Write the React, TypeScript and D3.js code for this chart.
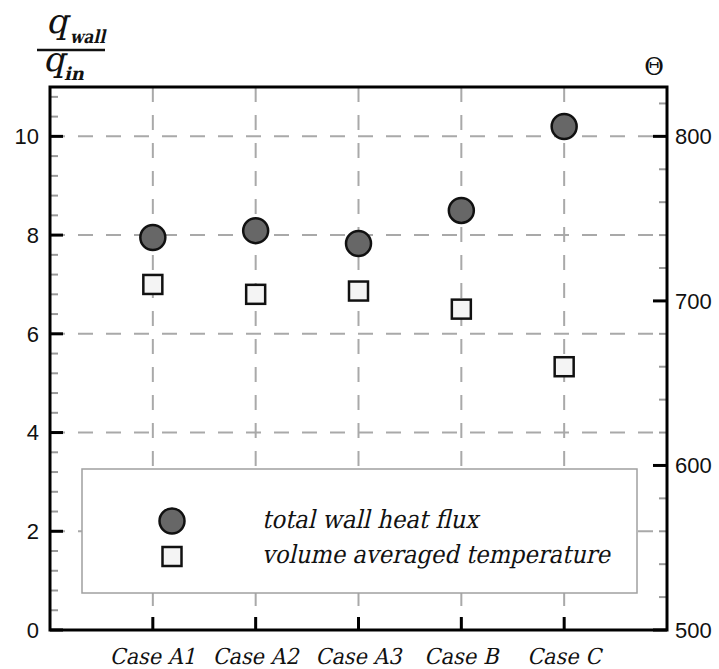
import React from "react";
import * as d3 from "d3";

// Cases along the x axis
const cases = ["Case A1", "Case A2", "Case A3", "Case B", "Case C"];
// Total wall heat flux ratio q_wall / q_in (left axis)
const heatFlux = [7.95, 8.09, 7.83, 8.5, 10.2];
// Volume averaged temperature Θ (right axis)
const avgTemperature = [710, 704, 706, 695, 660];
// Axis ticks
const leftTicks = [0, 2, 4, 6, 8, 10];
const rightTicks = [500, 600, 700, 800];
const gridValues = [2, 4, 6, 8, 10];

const W = 719;
const H = 669;
const plot = { left: 50, right: 667, top: 87, bottom: 630 };

const SERIF = "DejaVu Serif";
const SANS = "Liberation Sans";

// Slanted serif text drawn from an upright face
function Slanted(props: {
  x: number;
  y: number;
  size: number;
  bold?: boolean;
  anchor?: string;
  width?: number;
  children: React.ReactNode;
}) {
  const { x, y, size, bold, anchor, width, children } = props;
  return (
    <g transform={`translate(${x},${y}) skewX(-13)`}>
      <text
        x={0}
        y={0}
        textAnchor={anchor || "start"}
        style={{ fontFamily: SERIF, fontSize: size, fontWeight: bold ? "bold" : "normal" }}
        fill="#111"
        {...(width ? { textLength: width, lengthAdjust: "spacingAndGlyphs" } : {})}
      >
        {children}
      </text>
    </g>
  );
}

export default function App() {
  const x = d3.scaleLinear().domain([0, cases.length + 1]).range([plot.left, plot.right]);
  const yL = d3.scaleLinear().domain([0, 11]).range([plot.bottom, plot.top]);
  const yR = d3.scaleLinear().domain([500, 830]).range([plot.bottom, plot.top]);

  const leftMinor = d3.range(0, 11.001, 0.4).filter((v) => Math.abs(v / 2 - Math.round(v / 2)) > 1e-6 && v > 0);
  const rightMinor = d3.range(500, 830.001, 20).filter((v) => v % 100 !== 0);

  const gridStyle = { stroke: "#a9a9a9", strokeWidth: 2, strokeDasharray: "15 13" };

  return (
    <svg width={W} height={H} style={{ position: "absolute", left: 0, top: 0, background: "#fff" }}>
      <rect x={0} y={0} width={W} height={H} fill="#fff" />

      {/* right axis title */}
      <text x={654} y={75} textAnchor="middle" style={{ fontFamily: SERIF, fontSize: 24 }} fill="#111">
        Θ
      </text>

      {/* dashed grid */}
      {gridValues.map((v) => (
        <line key={"gh" + v} x1={plot.left} x2={plot.right} y1={yL(v)} y2={yL(v)} {...gridStyle} />
      ))}
      {cases.map((c, i) => (
        <line key={"gv" + c} x1={x(i + 1)} x2={x(i + 1)} y1={plot.top} y2={plot.bottom} {...gridStyle} />
      ))}

      {/* minor ticks */}
      {leftMinor.map((v) => (
        <line key={"lm" + v} x1={plot.left} x2={plot.left + 8} y1={yL(v)} y2={yL(v)} stroke="#999" strokeWidth={2} />
      ))}
      {rightMinor.map((v) => (
        <line key={"rm" + v} x1={plot.right} x2={plot.right - 8} y1={yR(v)} y2={yR(v)} stroke="#999" strokeWidth={2} />
      ))}

      {/* major ticks */}
      {leftTicks.map((v) => (
        <g key={"lt" + v}>
          <line x1={plot.left} x2={plot.left + 13} y1={yL(v)} y2={yL(v)} stroke="#000" strokeWidth={3} />
          <text x={39} y={yL(v)} dy="0.36em" textAnchor="end" style={{ fontFamily: SANS, fontSize: 22 }} fill="#111">
            {v}
          </text>
        </g>
      ))}
      {rightTicks.map((v) => (
        <g key={"rt" + v}>
          <line x1={plot.right} x2={plot.right - 14} y1={yR(v)} y2={yR(v)} stroke="#000" strokeWidth={3} />
          <text x={675} y={yR(v)} dy="0.36em" textAnchor="start" style={{ fontFamily: SANS, fontSize: 22 }} fill="#111">
            {v}
          </text>
        </g>
      ))}
      {cases.map((c, i) => (
        <g key={"xt" + c}>
          <line x1={x(i + 1)} x2={x(i + 1)} y1={plot.bottom} y2={plot.bottom - 13} stroke="#000" strokeWidth={3} />
          <Slanted x={x(i + 1)} y={664} size={22} anchor="middle" width={c.length > 6 ? 86 : 74}>
            {c}
          </Slanted>
        </g>
      ))}

      {/* frame */}
      <rect
        x={plot.left}
        y={plot.top}
        width={plot.right - plot.left}
        height={plot.bottom - plot.top}
        fill="none"
        stroke="#000"
        strokeWidth={3}
      />

      {/* data markers */}
      {avgTemperature.map((v, i) => (
        <rect
          key={"sq" + i}
          x={x(i + 1) - 9.5}
          y={yR(v) - 9.5}
          width={19}
          height={19}
          fill="#f4f4f4"
          stroke="#111"
          strokeWidth={2.5}
        />
      ))}
      {heatFlux.map((v, i) => (
        <circle key={"c" + i} cx={x(i + 1)} cy={yL(v)} r={12.5} fill="#676767" stroke="#111" strokeWidth={2.5} />
      ))}

      {/* legend */}
      <rect x={82} y={469} width={555} height={124} fill="#fff" stroke="#a0a0a0" strokeWidth={1.5} />
      <circle cx={172} cy={521} r={12.5} fill="#676767" stroke="#111" strokeWidth={2.5} />
      <rect x={162.5} y={547} width={19} height={19} fill="#f4f4f4" stroke="#111" strokeWidth={2.5} />
      <Slanted x={262} y={528} size={25} width={216}>
        total wall heat flux
      </Slanted>
      <Slanted x={262} y={563} size={25} width={348}>
        volume averaged temperature
      </Slanted>

      {/* left axis title: q_wall / q_in */}
      <Slanted x={46} y={33} size={34}>
        q
      </Slanted>
      <Slanted x={70} y={43} size={18} bold width={35}>
        wall
      </Slanted>
      <line x1={37} x2={105} y1={50} y2={50} stroke="#111" strokeWidth={2.5} />
      <Slanted x={43} y={71} size={34}>
        q
      </Slanted>
      <Slanted x={64} y={80} size={18} bold>
        in
      </Slanted>
    </svg>
  );
}
